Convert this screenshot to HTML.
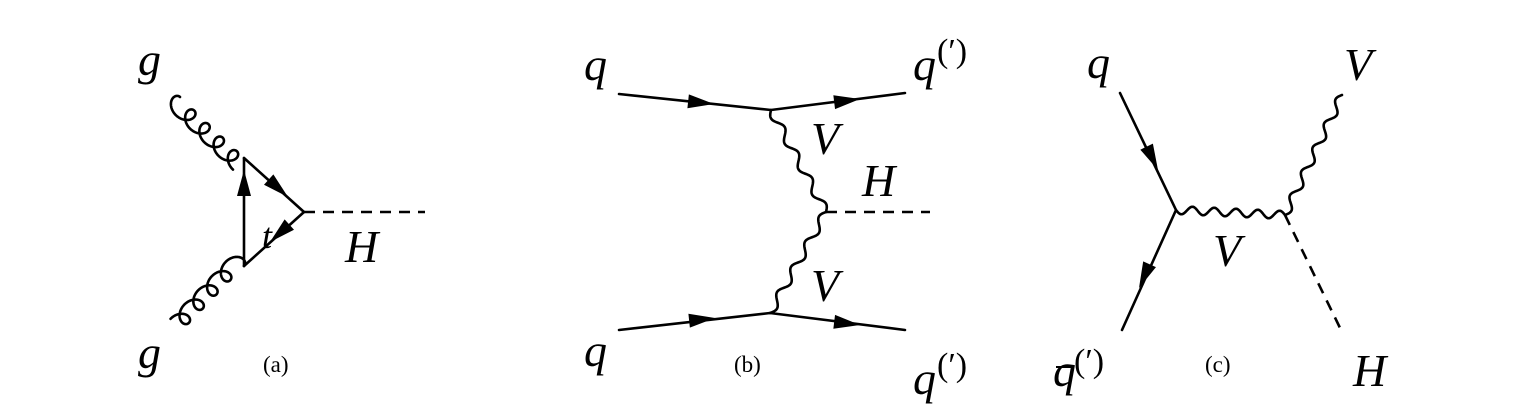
<!DOCTYPE html>
<html><head><meta charset="utf-8"><style>
html,body{margin:0;padding:0;background:#fff;}
svg{display:block}
text{font-family:"Liberation Serif",serif;fill:#000}
.it{font-style:italic;font-size:46px}
.cap{font-size:23px}
.pr{font-size:34px}
</style></head><body>
<svg id="s" width="1522" height="415" viewBox="0 0 1522 415" xmlns="http://www.w3.org/2000/svg">
<g stroke="#000" stroke-width="2.6" fill="none" stroke-linecap="round">
<line x1="244" y1="158" x2="244" y2="266"/>
<line x1="244" y1="158" x2="304" y2="212"/>
<line x1="244" y1="266" x2="304" y2="212"/>
<line x1="304" y1="212" x2="425" y2="212" stroke-dasharray="11,8" stroke-linecap="butt"/>
<polyline points="619,94 771,110 905,93"/>
<polyline points="619,330 770,313 905,330"/>
<line x1="826" y1="212" x2="930" y2="212" stroke-dasharray="11,8" stroke-linecap="butt"/>
<polyline points="1120,93 1176,210 1122,330"/>
<line x1="1285" y1="215" x2="1342" y2="332" stroke-dasharray="11,8" stroke-linecap="butt"/>
<path id="g1"/><path id="g2"/><path id="w1"/><path id="w2"/><path id="w3"/><path id="w4"/>
</g>
<g fill="#000">
<polygon points="244,170 237,196 251,196"/>
<polygon points="0,0 -26,-7 -26,7" transform="translate(288,197) rotate(42)"/>
<polygon points="0,0 -26,-7 -26,7" transform="translate(270,242) rotate(138)"/>
<polygon points="0,0 -26,-7 -26,7" transform="translate(714,104) rotate(6)"/>
<polygon points="0,0 -26,-7 -26,7" transform="translate(860,99) rotate(-7)"/>
<polygon points="0,0 -26,-7 -26,7" transform="translate(715,318) rotate(-6)"/>
<polygon points="0,0 -26,-7 -26,7" transform="translate(860,325) rotate(7)"/>
<polygon points="0,0 -26,-7 -26,7" transform="translate(1158,170) rotate(64)"/>
<polygon points="0,0 -26,-7 -26,7" transform="translate(1139,288) rotate(114)"/>
</g>
<text class="it" x="138" y="75">g</text>
<text class="it" x="138" y="368">g</text>
<text class="it" x="262" y="248" style="font-size:36px">t</text>
<text class="it" x="345" y="262">H</text>
<text class="cap" x="263" y="372">(a)</text>

<text class="it" x="584" y="80">q</text>
<text class="it" x="913" y="80">q</text><text class="pr" x="937" y="62">(′)</text>
<text class="it" x="811" y="154">V</text>
<text class="it" x="862" y="196">H</text>
<text class="it" x="811" y="301">V</text>
<text class="it" x="584" y="366">q</text>
<text class="it" x="913" y="394">q</text><text class="pr" x="937" y="376">(′)</text>
<text class="cap" x="734" y="372">(b)</text>

<text class="it" x="1087" y="78">q</text>
<text class="it" x="1344" y="80">V</text>
<text class="it" x="1213" y="266">V</text>
<text class="it" x="1053" y="386">q</text><line x1="1056" y1="367" x2="1073" y2="367" stroke="#000" stroke-width="2"/><text class="pr" x="1074" y="372">(′)</text>
<text class="cap" x="1205" y="372">(c)</text>
<text class="it" x="1353" y="386">H</text>
</svg>
<script>
function gluon(id,ax,ay,bx,by,n,r){var dx=bx-ax,dy=by-ay,L=Math.hypot(dx,dy),ux=dx/L,uy=dy/L,px=-uy,py=ux,d='';
var N=500;for(var i=0;i<=N;i++){var t=i/N,u=2*Math.PI*(n*t+0.0);var a=t*(L-0) - r*1.1*Math.sin(u), p=r*(1-Math.cos(u));
var x=ax+ux*a+px*p,y=ay+uy*a+py*p;d+=(i?'L':'M')+x.toFixed(2)+','+y.toFixed(2);}
document.getElementById(id).setAttribute('d',d);}
function wave(id,ax,ay,bx,by,n,r){var dx=bx-ax,dy=by-ay,L=Math.hypot(dx,dy),ux=dx/L,uy=dy/L,px=-uy,py=ux,d='';
for(var i=0;i<=200;i++){var t=i/200,a=t*L,p=r*Math.sin(2*Math.PI*n*t);var x=ax+ux*a+px*p,y=ay+uy*a+py*p;d+=(i?'L':'M')+x.toFixed(2)+','+y.toFixed(2);}
document.getElementById(id).setAttribute('d',d);}
gluon('g1',180,97,244,158,4.5,8);
gluon('g2',244,266,182,330,4.5,8);
wave('w1',771,110,826,212,4,4);
wave('w2',826,212,770,313,4,4);
wave('w3',1176,210,1285,215,5,4);
wave('w4',1285,215,1342,95,5,4);
</script>
</body></html>
